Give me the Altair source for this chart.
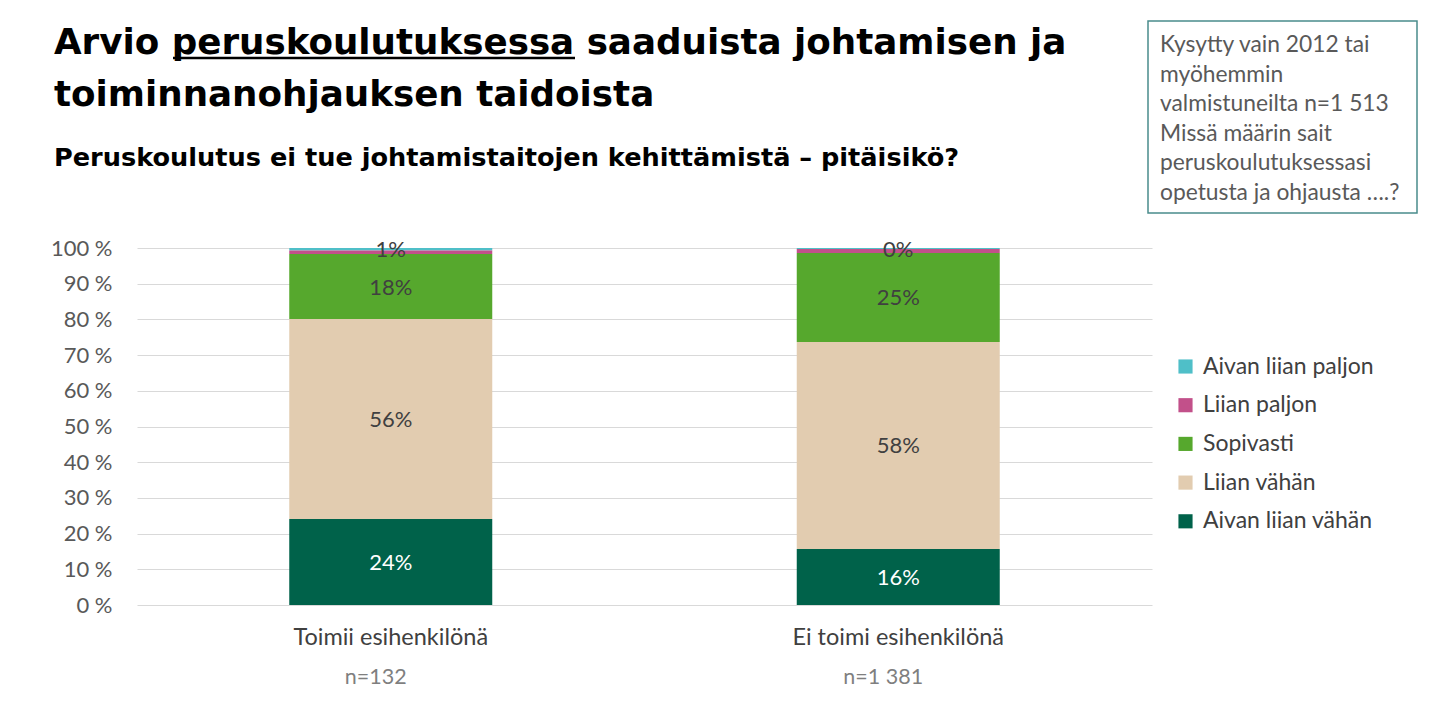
import altair as alt
import pandas as pd

groups = ["Toimii esihenkilönä", "Ei toimi esihenkilönä"]
n_labels = ["n=132", "n=1 381"]
categories = ["Aivan liian paljon", "Liian paljon", "Sopivasti", "Liian vähän", "Aivan liian vähän"]
colors = ["#4fbfc8", "#c2508a", "#56a82d", "#e2ccb0", "#00624a"]
stack_rank = [4, 3, 2, 1, 0]
show_label = [True, False, True, True, True]
label_colors = ["#404040", "#404040", "#404040", "#404040", "#ffffff"]
values_toimii = [0.7, 1.0, 18.2, 56.0, 24.1]
values_ei = [0.3, 1.1, 24.9, 58.0, 15.7]
y_ticks = [0, 10, 20, 30, 40, 50, 60, 70, 80, 90, 100]

rows = []
for g, vals in zip(groups, [values_toimii, values_ei]):
    for c, v, r, s, lc in zip(categories, vals, stack_rank, show_label, label_colors):
        rows.append({"group": g, "cat": c, "value": v, "rank": r, "show": s, "lc": lc})
df = pd.DataFrame(rows)
ndf = pd.DataFrame({"group": groups, "n": n_labels})

W, H = 1015, 357
FONT = "Lato"
TFONT = "DejaVu Sans"

xscale = alt.Scale(domain=groups, paddingInner=0.6, paddingOuter=0.3)
yscale = alt.Scale(domain=[0, 100])
xaxis = alt.Axis(title=None, labelAngle=0, domain=False, ticks=False, labelLimit=0, grid=False,
                 labelFont=FONT, labelFontSize=23.5, labelColor="#404040", labelPadding=20)
yaxis = alt.Axis(title=None, values=y_ticks, labelOverlap=False, tickCount=11,
                 labelExpr="datum.value + ' %'", domain=False, ticks=False,
                 labelFont=FONT, labelFontSize=22, labelColor="#595959",
                 labelPadding=25, grid=True, gridColor="#d9d9d9", gridWidth=1)

bars = alt.Chart(df).mark_bar().encode(
    x=alt.X("group:N", scale=xscale, sort=groups, axis=xaxis),
    y=alt.Y("value:Q", stack=True, scale=yscale, axis=yaxis),
    color=alt.Color("cat:N", scale=alt.Scale(domain=categories, range=colors),
                    legend=alt.Legend(title=None, orient="none", legendX=1037, legendY=107,
                                      labelFont=FONT, labelFontSize=23, labelColor="#404040",
                                      labelLimit=0,
                                      symbolType="square", symbolSize=200, symbolStrokeWidth=0,
                                      rowPadding=14.7, labelOffset=6)),
    order=alt.Order("rank:Q"),
)

labels = alt.Chart(df).transform_stack(
    stack="value", groupby=["group"], sort=[alt.SortField("rank", order="ascending")],
    as_=["y0", "y1"]
).transform_calculate(
    mid="(datum.y0 + datum.y1) / 2",
    lab="format(datum.value, '.0f') + '%'"
).transform_filter("datum.show").mark_text(font=FONT, fontSize=22, dy=1).encode(
    x=alt.X("group:N", scale=xscale, sort=groups, axis=xaxis),
    y=alt.Y("mid:Q", scale=yscale, axis=yaxis),
    text="lab:N",
    color=alt.Color("lc:N", scale=None),
)

nlab = alt.Chart(ndf).mark_text(font=FONT, fontSize=21.5, color="#7f7f7f", dx=-15).encode(
    x=alt.X("group:N", scale=xscale, sort=groups, axis=xaxis),
    y=alt.value(H + 73),
    text="n:N",
)

one = pd.DataFrame({"k": [0]})

title = alt.Chart(one).mark_text(font=TFONT, fontSize=35.7, fontWeight="bold", color="#000000",
                                 align="left", baseline="alphabetic", lineBreak="\n",
                                 lineHeight=52).encode(
    x=alt.value(-83), y=alt.value(-194),
    text=alt.value("Arvio peruskoulutuksessa saaduista johtamisen ja\ntoiminnanohjauksen taidoista"),
)
underline = alt.Chart(one).mark_rule(color="#000000", strokeWidth=2.5).encode(
    x=alt.value(36), x2=alt.value(438), y=alt.value(-190),
)
subtitle = alt.Chart(one).mark_text(font=TFONT, fontSize=25.6, fontWeight="bold", color="#000000",
                                    align="left", baseline="alphabetic").encode(
    x=alt.value(-83), y=alt.value(-82),
    text=alt.value("Peruskoulutus ei tue johtamistaitojen kehittämistä – pitäisikö?"),
)
box = alt.Chart(one).mark_rect(fill="white", stroke="#4a8c8c", strokeWidth=1.5).encode(
    x=alt.value(1011), x2=alt.value(1280), y=alt.value(-227), y2=alt.value(-35),
)
boxtext = alt.Chart(one).mark_text(font=FONT, fontSize=22.8, color="#595959", align="left",
                                   baseline="middle", lineBreak="\n", lineHeight=29.6).encode(
    x=alt.value(1023), y=alt.value(-203),
    text=alt.value("Kysytty vain 2012 tai\nmyöhemmin\nvalmistuneilta n=1 513\nMissä määrin sait\nperuskoulutuksessasi\nopetusta ja ohjausta ….?"),
)

chart = alt.layer(bars, labels, nlab, title, underline, subtitle, box, boxtext).properties(
    width=W, height=H, background="white",
    autosize=alt.AutoSizeParams(type="none"),
    padding={"left": 129, "top": 240, "right": 280, "bottom": 100},
).configure_view(strokeWidth=0)

chart.save("out.html", embed_options={"renderer": "svg", "actions": False})
